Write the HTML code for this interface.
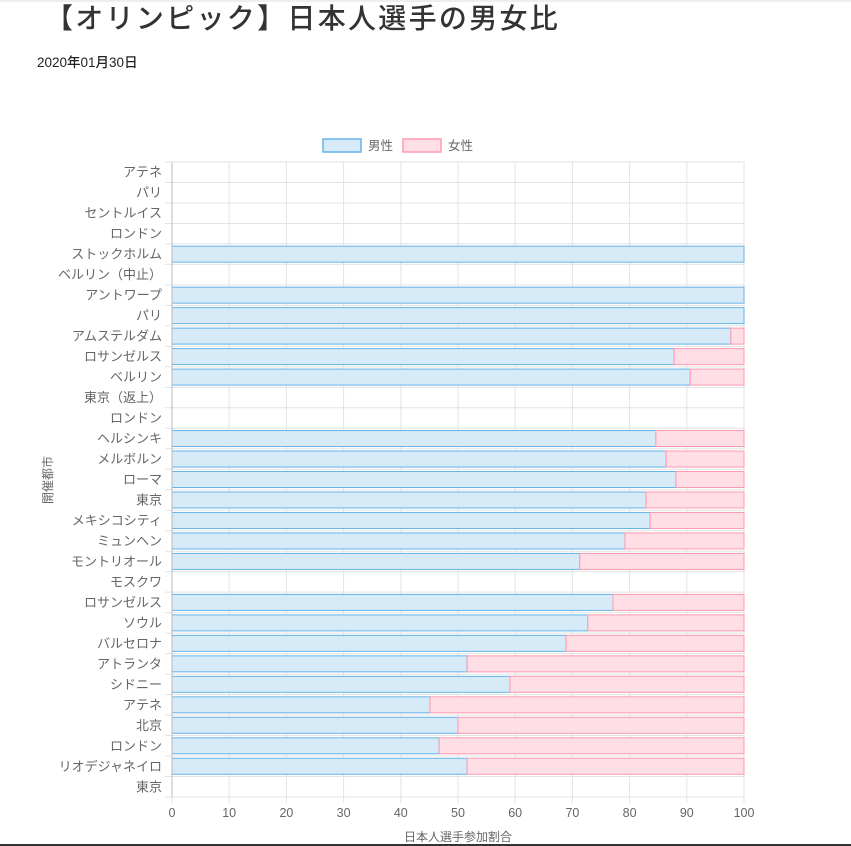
<!DOCTYPE html>
<html><head><meta charset="utf-8"><style>
body{margin:0;background:#fff;width:851px;height:846px;overflow:hidden;font-family:"Liberation Sans","Noto Sans CJK JP",sans-serif;}
</style></head><body>
<svg width="851" height="846" xmlns="http://www.w3.org/2000/svg" style="position:absolute;left:0;top:0;font-family:'Liberation Sans','Noto Sans CJK JP',sans-serif">
<rect x="0" y="0" width="851" height="2" fill="#eee"/>
<text x="45" y="28" font-size="28" fill="#333" font-weight="500" letter-spacing="2.3">【オリンピック】日本人選手の男女比</text>
<text x="37" y="67" font-size="13.5" fill="#222" font-weight="500">2020年01月30日</text>
<rect x="323" y="139" width="38" height="13" fill="#d6eaf8" stroke="#66b3ea" stroke-width="1.5"/>
<text x="368" y="150" font-size="12.5" fill="#666">男性</text>
<rect x="403" y="139" width="38" height="13" fill="#ffdfe5" stroke="#ff9ab0" stroke-width="1.5"/>
<text x="448" y="150" font-size="12.5" fill="#666">女性</text>
<g id="g"></g>
<text x="458" y="841" font-size="12" fill="#666" text-anchor="middle">日本人選手参加割合</text>
<text transform="translate(52,480) rotate(-90)" font-size="12" fill="#666" text-anchor="middle">開催都市</text>
<rect x="0" y="844" width="851" height="2" fill="#333"/>
</svg>
<script>
var labels=["アテネ","パリ","セントルイス","ロンドン","ストックホルム","ベルリン（中止）","アントワープ","パリ","アムステルダム","ロサンゼルス","ベルリン","東京（返上）","ロンドン","ヘルシンキ","メルボルン","ローマ","東京","メキシコシティ","ミュンヘン","モントリオール","モスクワ","ロサンゼルス","ソウル","バルセロナ","アトランタ","シドニー","アテネ","北京","ロンドン","リオデジャネイロ","東京"];
var v=[null,null,null,null,100,null,100,100,97.7,87.8,90.6,null,null,84.6,86.4,88.1,82.9,83.6,79.2,71.3,null,77.1,72.7,68.9,51.6,59.1,45.1,50,46.7,51.6,null];
var x0=172,x1=744,y0=162,y1=797,h=(y1-y0)/31,s='';
for(var i=0;i<=10;i++){var x=x0+(x1-x0)*i/10;s+='<line x1="'+x+'" y1="'+y0+'" x2="'+x+'" y2="'+(y1+6)+'" stroke="#e3e3e3"/>';s+='<text x="'+x+'" y="817" font-size="12.5" fill="#666" text-anchor="middle">'+(i*10)+'</text>';}
for(var j=0;j<=31;j++){var y=y0+h*j;s+='<line x1="165" y1="'+y+'" x2="'+x1+'" y2="'+y+'" stroke="#e3e3e3"/>';}
for(var j=0;j<31;j++){var yc=y0+h*(j+0.5);s+='<text x="162" y="'+(yc+4.5)+'" font-size="13" fill="#666" text-anchor="end">'+labels[j]+'</text>';
if(v[j]!=null){var xm=x0+(x1-x0)*v[j]/100;s+='<rect x="'+x0+'" y="'+(yc-8)+'" width="'+(xm-x0)+'" height="16" fill="#d6eaf8" stroke="#66b3ea" stroke-width="1"/>';if(v[j]<100)s+='<rect x="'+xm+'" y="'+(yc-8)+'" width="'+(x1-xm)+'" height="16" fill="#ffdfe5" stroke="#ff9ab0" stroke-width="1"/>';}}
s+='<line x1="'+x0+'" y1="'+y0+'" x2="'+x0+'" y2="'+y1+'" stroke="#bbb"/>';
document.getElementById('g').innerHTML=s;
</script>
</body></html>
